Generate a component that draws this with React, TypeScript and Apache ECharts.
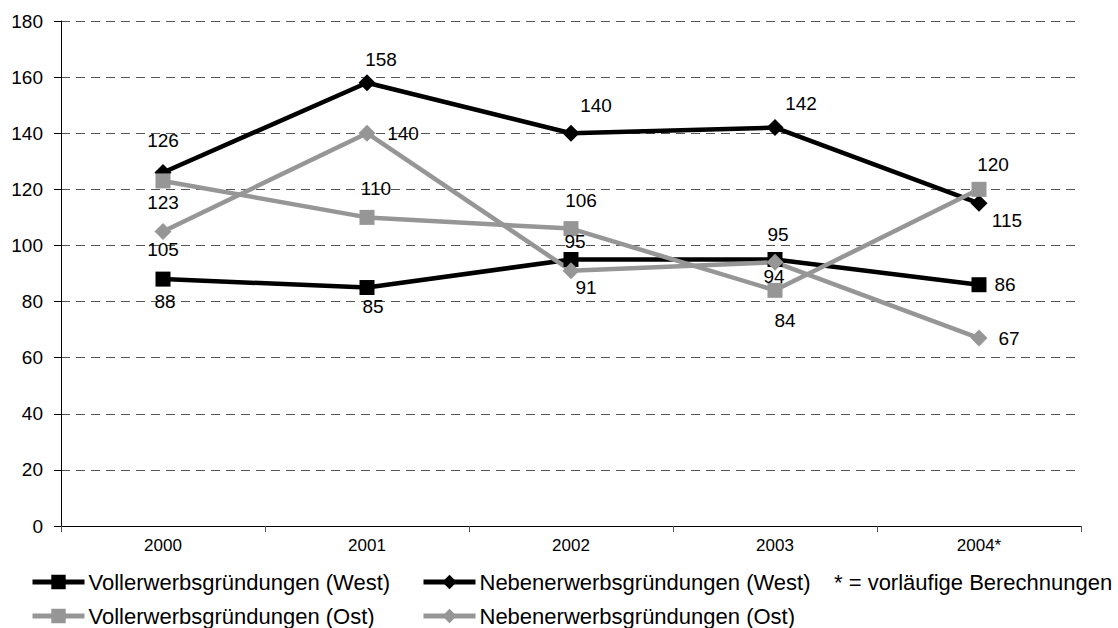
import React, { useEffect, useRef } from "react";
import * as echarts from "echarts";

const categories = ["2000", "2001", "2002", "2003", "2004*"];
const vollWest = [88, 85, 95, 95, 86];
const nebenWest = [126, 158, 140, 142, 115];
const vollOst = [123, 110, 106, 84, 120];
const nebenOst = [105, 140, 91, 94, 67];

const seriesNames = [
  "Vollerwerbsgründungen (West)",
  "Nebenerwerbsgründungen (West)",
  "Vollerwerbsgründungen (Ost)",
  "Nebenerwerbsgründungen (Ost)",
];
const noteText = "* = vorläufige Berechnungen";

// label offsets (dx, dy) from each point
const offVollWest = [[2, 22], [6, 19], [4, -18], [3, -25], [26, 0]];
const offNebenWest = [[0, -32], [14, -23], [25, -28], [26, -24], [28, 17]];
const offVollOst = [[0, 22], [9, -29], [10, -28], [10, 30], [14, -25]];
const offNebenOst = [[0, 18], [36, 0], [15, 17], [-1, 14], [30, 0]];

const FONT = "Liberation Sans, Arial, sans-serif";
const BLACK = "#000000";
const GRAY = "#969696";

function mkData(vals: number[], offs: number[][]) {
  return vals.map((v, i) => ({
    value: v,
    label: { offset: offs[i] },
  }));
}

function mkSeries(name: string, vals: number[], offs: number[][], color: string, symbol: string, size: any) {
  return {
    name,
    type: "line",
    data: mkData(vals, offs),
    symbol,
    symbolSize: size,
    showAllSymbol: true,
    lineStyle: { color, width: 4.5 },
    itemStyle: { color },
    label: {
      show: true,
      position: "inside",
      color: "#000",
      fontSize: 19,
      fontFamily: FONT,
      align: "center",
      verticalAlign: "middle",
    },
    emphasis: { disabled: true },
    z: 2,
  };
}

function mkLegend(name: string, left: number, top: number) {
  return {
    data: [name],
    left,
    top,
    orient: "horizontal",
    padding: 0,
    itemWidth: 52,
    itemHeight: 18,
    selectedMode: false,
    lineStyle: { width: 5 },
    textStyle: { fontSize: 22, fontFamily: FONT, color: "#000", padding: [0, 0, 0, -1] },
  };
}

export default function App() {
  const ref = useRef<HTMLDivElement>(null);
  useEffect(() => {
    if (!ref.current) return;
    const chart = echarts.init(ref.current, null, { renderer: "svg" });
    chart.setOption({
      animation: false,
      backgroundColor: "#ffffff",
      grid: { left: 61, right: 37, top: 21, bottom: 102, containLabel: false },
      xAxis: {
        type: "category",
        data: categories,
        boundaryGap: true,
        axisLine: { lineStyle: { color: "#000", width: 1 } },
        axisTick: { show: true, length: 6, lineStyle: { color: "#555" }, alignWithLabel: false },
        axisLabel: { fontSize: 17, fontFamily: FONT, color: "#000", margin: 11 },
        splitLine: { show: false },
      },
      yAxis: {
        type: "value",
        min: 0,
        max: 180,
        interval: 20,
        axisLine: { show: true, lineStyle: { color: "#000", width: 1 } },
        axisTick: { show: true, length: 7, lineStyle: { color: "#000" } },
        axisLabel: { fontSize: 19, fontFamily: FONT, color: "#000", margin: 18 },
        splitLine: { show: true, lineStyle: { color: "#555", type: [9, 6], width: 1 } },
      },
      legend: [
        mkLegend(seriesNames[0], 30, 571),
        mkLegend(seriesNames[1], 421, 571),
        mkLegend(seriesNames[2], 30, 605),
        mkLegend(seriesNames[3], 421, 605),
      ],
      graphic: [
        {
          type: "text",
          x: 834,
          y: 582,
          style: { text: noteText, fontSize: 22, fontFamily: FONT, fill: "#000", verticalAlign: "middle" },
        },
      ],
      series: [
        mkSeries(seriesNames[0], vollWest, offVollWest, BLACK, "rect", [15, 15]),
        mkSeries(seriesNames[1], nebenWest, offNebenWest, BLACK, "diamond", [17, 17]),
        mkSeries(seriesNames[2], vollOst, offVollOst, GRAY, "rect", [15, 15]),
        mkSeries(seriesNames[3], nebenOst, offNebenOst, GRAY, "diamond", [17, 17]),
      ],
    });
    return () => chart.dispose();
  }, []);
  return (
    <div
      ref={ref}
      style={{ position: "fixed", left: 0, top: 0, width: 1118, height: 628, background: "#fff" }}
    />
  );
}
